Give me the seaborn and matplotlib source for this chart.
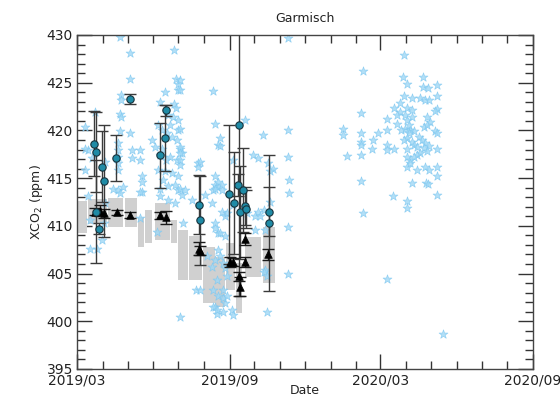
import pandas as pd
import matplotlib
matplotlib.use("Agg")
import matplotlib.pyplot as plt
import matplotlib.dates as mdates
from matplotlib.ticker import MultipleLocator
import seaborn as sns

START = pd.Timestamp("2019-03-01")
END = pd.Timestamp("2020-09-01")

# Individual soundings: days since START and XCO2 (ppm)
star_day = [
    52, 64, 64, 53, 53, 52, 53, 22, 10, 52, 64, 76, 76, 66, 66, 50, 50, 50, 50, 50,
    78, 78, 78, 50, 52, 13, 18, 10, 34, 34, 32, 30, 24, 76, 16, 13, 43, 55, 16, 10, 76,
    117, 120, 122, 122, 106, 117, 120, 110, 116, 122, 98, 102, 109, 115, 121, 122, 90, 94,
    102, 124, 127, 112, 121, 124, 146, 98, 106, 115, 122, 118, 122, 127, 100, 110, 118, 96,
    124, 144, 124, 130, 139, 128, 100, 100, 104, 110, 107, 100, 112, 124, 124, 124, 124,
    124, 124, 148, 146, 154,
    164, 166, 170, 166, 169, 163, 166, 166, 255, 172, 172, 166, 175, 164, 188, 203, 224,
    255, 255, 256, 256, 212, 218, 230, 236, 233, 170, 175, 166, 175, 178, 166, 170, 178,
    218, 215, 227, 255, 170, 166, 178, 181, 227, 255, 170, 178, 187, 229, 176, 188, 169,
    164, 172, 176, 205, 215, 164, 176, 176, 157, 163, 169, 181, 148, 169, 188, 181, 172,
    233, 225, 221, 225, 229,
    321, 321, 326,
    345, 394, 393, 398, 417, 417, 423, 434, 394, 404, 382, 389, 398, 404, 414, 420, 424,
    434, 434, 432, 396, 404, 398, 374, 386, 343, 422, 426, 396, 402, 406, 400, 374, 363,
    418, 422, 432, 434, 343, 343, 343, 357, 356, 374, 382, 374, 412, 416, 420, 398, 404,
    406, 410, 418, 424, 434, 398, 422, 414, 410, 406, 398, 402, 398, 402, 410, 420, 424,
    434, 434, 343, 343, 404, 421, 423, 381, 398, 398, 434, 345, 374, 441, 390, 386, 400,
    391, 394,
]
star_xco2 = [
    429.8, 428.1, 425.4, 423.7, 423.2, 421.7, 421.4, 421.9, 420.4, 419.9, 419.7, 417.9,
    416.9, 417.9, 417.1, 418.7, 417.9, 417.2, 416.6, 415.9, 415.2, 414.6, 413.6, 413.8,
    413.4, 417.9, 417.1, 415.9, 416.7, 412.4, 410.3, 408.5, 407.6, 410.8, 410.6, 413.1,
    413.9, 414.1, 407.6, 418.1, 413.6,
    428.4, 425.4, 424.9, 424.2, 424.0, 422.8, 422.3, 421.6, 421.4, 421.1, 420.6, 420.0,
    419.7, 419.3, 419.0, 420.0, 419.0, 418.3, 418.1, 418.1, 417.6, 417.2, 416.9, 416.4,
    416.6, 415.9, 415.7, 415.5, 415.2, 414.3, 413.8, 413.2, 413.1, 412.7, 412.4, 409.4,
    400.5, 403.3, 413.9, 413.8, 412.7, 410.3, 423.0, 413.9, 414.8, 414.2, 416.9, 417.4,
    420.6, 425.3, 424.2, 420.2, 418.3, 417.6, 416.9, 416.7, 416.2, 413.2,
    424.1, 420.7, 418.5, 415.2, 414.1, 412.4, 409.8, 401.5, 429.7, 419.2, 418.4, 414.3,
    413.8, 413.8, 416.9, 421.1, 419.5, 420.0, 417.2, 414.8, 413.4, 417.4, 417.1, 416.6,
    416.0, 415.7, 414.6, 414.3, 413.9, 411.5, 411.0, 410.3, 409.2, 408.9, 411.5, 411.0,
    409.6, 409.9, 407.5, 406.4, 405.6, 404.7, 405.4, 405.0, 402.6, 401.9, 401.2, 401.0,
    401.0, 400.7, 400.8, 401.5, 406.8, 406.1, 411.3, 409.6, 403.3, 403.3, 402.4, 406.8,
    405.7, 404.3, 402.6, 403.3, 401.2, 412.2, 411.3, 409.2, 412.5, 411.7, 411.0, 405.2,
    404.7,
    420.2, 419.5, 417.3,
    426.2, 427.9, 425.6, 424.9, 425.6, 424.6, 424.4, 424.8, 423.6, 423.4, 422.4, 422.9,
    422.4, 422.1, 423.4, 423.2, 423.2, 423.6, 422.2, 422.0, 421.6, 421.4, 421.1, 421.2,
    420.7, 421.8, 421.4, 420.9, 420.2, 420.0, 419.9, 419.7, 420.0, 419.7, 420.4, 420.6,
    419.9, 419.7, 419.7, 418.8, 418.5, 419.0, 418.1, 418.5, 418.1, 417.9, 419.3, 419.0,
    418.7, 419.2, 418.8, 418.5, 418.3, 418.2, 418.4, 418.1, 418.1, 417.8, 417.6, 417.4,
    417.2, 417.2, 416.9, 416.2, 416.6, 415.9, 416.2, 415.9, 416.2, 415.2, 417.4, 414.7,
    414.5, 414.5, 414.4, 413.1, 412.6, 411.9, 413.2, 411.3, 404.4, 398.7, 421.9, 421.6,
    420.6, 420.0, 419.0,
]

# Daily-mean retrievals with uncertainty
circ_day = [21, 23, 23, 27, 30, 33, 47, 64, 107, 106, 100, 147, 148,
            183, 189, 195, 194, 200, 197, 203, 204, 232, 231]
circ_xco2 = [418.6, 417.7, 411.5, 409.7, 416.2, 414.7, 417.1, 423.3, 422.1, 419.2, 417.4,
             412.2, 410.6, 413.3, 412.4, 420.6, 414.3, 413.8, 411.4, 412.1, 411.8,
             411.5, 410.3]
circ_err = [3.4, 4.2, 5.4, 0.6, 3.7, 5.9, 2.4, 0.55, 0.6, 3.5, 3.4,
            3.1, 4.65, 7.3, 5.3, 18.0, 1.15, 4.4, 4.9, 2.0, 2.0, 2.6, 7.15]

# Model / reference daily means
tri_day = [22, 28, 32, 48, 64, 100, 107, 147, 148, 185, 188, 195, 196, 203, 203, 230]
tri_xco2 = [411.5, 411.6, 411.3, 411.4, 411.1, 411.1, 410.9, 407.6, 407.4,
            406.2, 406.2, 404.7, 403.6, 406.2, 408.6, 407.0]
tri_err = [0.4, 0.6, 0.5, 0.3, 0.3, 0.4, 0.7, 0.7, 0.5, 0.5, 0.4, 0.5, 1.0, 0.5, 0.6, 0.6]

# Continuous in-situ record, summarised as ranges over short periods
band_start = [0, 13, 37, 58, 74, 82, 94, 113, 122, 135, 152, 167, 180, 192, 203, 224]
band_end = [12, 36, 55, 72, 81, 90, 112, 121, 134, 151, 166, 179, 191, 199, 222, 239]
band_low = [409.3, 410.2, 409.9, 409.9, 407.8, 408.2, 408.5, 408.2, 404.3, 404.3,
            401.9, 401.5, 403.3, 400.9, 404.6, 404.0]
band_high = [412.6, 412.8, 412.9, 412.9, 410.9, 411.7, 412.4, 410.6, 409.6, 408.9,
             407.8, 406.7, 408.2, 406.1, 408.8, 409.9]


def to_dates(days):
    return START + pd.to_timedelta(days, unit="D")


stars = pd.DataFrame({"date": to_dates(star_day), "xco2": star_xco2})
circles = pd.DataFrame({"date": to_dates(circ_day), "xco2": circ_xco2, "err": circ_err})
triangles = pd.DataFrame({"date": to_dates(tri_day), "xco2": tri_xco2, "err": tri_err})

sns.set_theme(style="ticks")
plt.rcParams["font.family"] = ["DejaVu Sans"]

fig = plt.figure(figsize=(5.6, 4.0), dpi=100)
ax = fig.add_axes([0.1375, 0.0775, 0.8143, 0.835])

for s, e, lo, hi in zip(band_start, band_end, band_low, band_high):
    d = to_dates([s, e])
    ax.fill_between(d, [lo, lo], [hi, hi], color="#d0d0d0", lw=0, zorder=1)

sns.scatterplot(data=stars, x="date", y="xco2", marker="*", s=45,
                color="#9fd8f6", edgecolor="#80c8f0", linewidth=0.5, alpha=0.8,
                zorder=2, ax=ax, legend=False)

ax.errorbar(circles["date"], circles["xco2"], yerr=circles["err"], fmt="none",
            ecolor="#3a3a3a", elinewidth=1.0, capsize=4, capthick=1.0, zorder=3)
ax.errorbar(triangles["date"], triangles["xco2"], yerr=triangles["err"], fmt="none",
            ecolor="#1a1a1a", elinewidth=1.0, capsize=4, capthick=1.0, zorder=3)

sns.scatterplot(data=triangles, x="date", y="xco2", marker="^", s=30,
                color="black", edgecolor="black", linewidth=0.5, zorder=4,
                ax=ax, legend=False)
sns.scatterplot(data=circles, x="date", y="xco2", marker="o", s=28,
                color="#1f8ba6", edgecolor="#17323c", linewidth=0.8, zorder=5,
                ax=ax, legend=False)

ax.set_xlim(START, END)
ax.set_ylim(395, 430)
ax.xaxis.set_major_locator(mdates.MonthLocator(bymonth=[3, 9]))
ax.xaxis.set_major_formatter(mdates.DateFormatter("%Y/%m"))
ax.xaxis.set_minor_locator(mdates.MonthLocator())
ax.yaxis.set_major_locator(MultipleLocator(5))
ax.yaxis.set_minor_locator(MultipleLocator(1))

ax.tick_params(which="both", direction="in", top=True, right=True,
               color="#333333", width=1.0)
ax.tick_params(which="major", length=11, labelsize=10, pad=3, labelcolor="#222222")
ax.tick_params(which="minor", length=5.5)
for sp in ax.spines.values():
    sp.set_color("#444444")
    sp.set_linewidth(1.0)

ax.set_title("Garmisch", fontsize=9, pad=9, color="#222222")
ax.set_xlabel("Date", fontsize=9, labelpad=-2.5, color="#222222")
ax.set_ylabel("XCO$_2$ (ppm)", fontsize=9, labelpad=1, color="#222222")

fig.savefig("out.png", dpi=100, facecolor="white")
